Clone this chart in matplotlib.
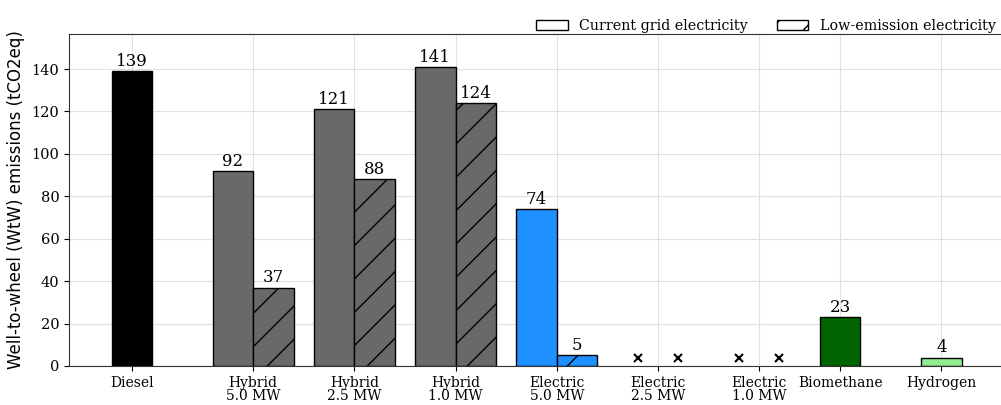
import numpy as np
import matplotlib
matplotlib.use("Agg")
import matplotlib.pyplot as plt
from matplotlib.patches import Patch

# Vessel configurations and their WtW emissions (tCO2eq)
categories = ["Diesel", "Hybrid\n5.0 MW", "Hybrid\n2.5 MW", "Hybrid\n1.0 MW",
              "Electric\n5.0 MW", "Electric\n2.5 MW", "Electric\n1.0 MW",
              "Biomethane", "Hydrogen"]
x_pos = [0.0, 1.2, 2.2, 3.2, 4.2, 5.2, 6.2, 7.0, 8.0]

# Single-value configurations
single_idx = [0, 7, 8]
single_vals = [139, 23, 4]
single_colors = ["black", "darkgreen", "lightgreen"]

# Grid-dependent configurations: current grid vs low-emission electricity
paired_idx = [1, 2, 3, 4]
current_grid = [92, 121, 141, 74]
low_emission = [37, 88, 124, 5]
paired_colors = ["dimgray", "dimgray", "dimgray", "dodgerblue"]

# Configurations that are not feasible
infeasible_idx = [5, 6]

plt.rcParams["font.family"] = "DejaVu Serif"

fig = plt.figure(figsize=(10.01, 4.05), dpi=100)
ax = fig.add_axes([0.069, 0.0963, 0.933, 0.8197])

w = 0.4
ax.set_axisbelow(True)
ax.grid(True, color="#e0e0e0", linewidth=0.8)


def label(x, v):
    ax.text(x, v + 0.6, f"{v}", ha="center", va="bottom", fontsize=12)


for i, v, c in zip(single_idx, single_vals, single_colors):
    ax.bar(x_pos[i], v, width=w, color=c, edgecolor="black", linewidth=1)
    label(x_pos[i], v)

for i, a, b, c in zip(paired_idx, current_grid, low_emission, paired_colors):
    ax.bar(x_pos[i] - w / 2, a, width=w, color=c, edgecolor="black", linewidth=1)
    ax.bar(x_pos[i] + w / 2, b, width=w, color=c, edgecolor="black",
           linewidth=1, hatch="/")
    label(x_pos[i] - w / 2, a)
    label(x_pos[i] + w / 2, b)

marker_y = 4
for i in infeasible_idx:
    ax.plot([x_pos[i] - w / 2, x_pos[i] + w / 2], [marker_y, marker_y],
            linestyle="none", marker="x", color="black", markersize=6,
            markeredgewidth=1.5)

ax.set_xticks(x_pos)
ax.set_xticklabels(categories, fontsize=10, linespacing=0.95)
ax.tick_params(axis="y", labelsize=10.5)
ax.set_yticks(np.arange(0, 141, 20))
ax.set_xlim(-0.62, 8.61)
ax.set_ylim(0, 156.5)
ax.set_ylabel("Well-to-wheel (WtW) emissions (tCO2eq)", fontsize=12,
              family="DejaVu Sans", labelpad=5)

for s in ["left", "top", "bottom", "right"]:
    ax.spines[s].set_color("#333333")

handles = [Patch(facecolor="white", edgecolor="black", label="Current grid electricity"),
           Patch(facecolor="white", edgecolor="black", hatch="/",
                 label="Low-emission electricity")]
ax.legend(handles=handles, loc="lower right", bbox_to_anchor=(0.998, 0.985),
          ncol=2, frameon=False, fontsize=10.3, borderaxespad=0.0,
          handlelength=2.2, columnspacing=2.0, handletextpad=0.8)

fig.savefig("out.png", dpi=100)
